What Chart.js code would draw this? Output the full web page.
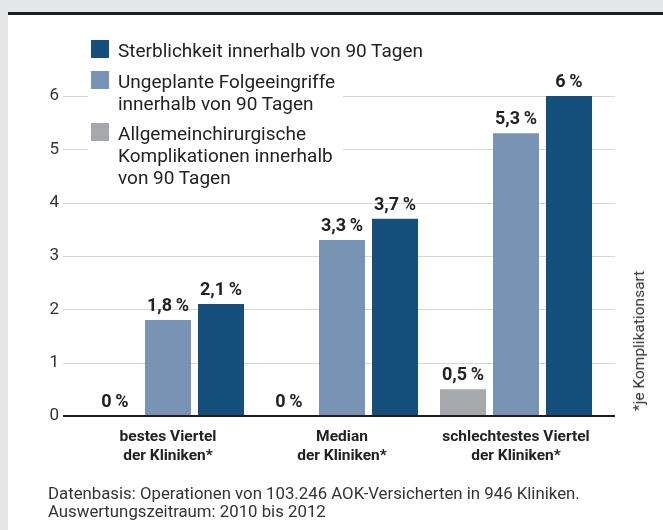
<!DOCTYPE html>
<html lang="de">
<head>
<meta charset="utf-8">
<script src="https://cdn.jsdelivr.net/npm/chart.js@4.4.1/dist/chart.umd.min.js"></script>
<style>
  body { margin: 0; background: #e6e7e9; font-family: Roboto, "Liberation Sans", sans-serif; }
  #karte { position: absolute; left: 8px; top: 12px; width: 655px; height: 518px; background: #fff; border-top: 3px solid #1f1f1f; }
  #grafik { position: absolute; left: 0; top: 0; }
  #legendeHg { position: absolute; left: 88px; top: 62px; width: 255px; height: 132px; background: #fff; }
  #legende { position: absolute; left: 88px; top: 40px; }
  .eintrag { position: relative; padding-left: 30px; margin-bottom: 8.5px; font-size: 19px; line-height: 22px; color: #222; white-space: nowrap; }
  .eintrag span { position: absolute; left: 3px; top: 0; width: 18px; height: 18px; }
  #fuss { position: absolute; left: 48px; top: 485px; font-size: 16.8px; line-height: 17.5px; color: #333; }
  #hinweis { position: absolute; left: 639px; top: 341px; transform: translate(-50%, -50%) rotate(-90deg); white-space: nowrap; font-size: 15.5px; color: #333; }
</style>
</head>
<body>
<div id="karte"></div>
<canvas id="grafik" width="663" height="530"></canvas>
<div id="legendeHg"></div>
<div id="legende"></div>
<div id="fuss">Datenbasis: Operationen von 103.246 AOK-Versicherten in 946 Kliniken.<br>Auswertungszeitraum: 2010 bis 2012</div>
<div id="hinweis">*je Komplikationsart</div>
<script>
const kategorien = [['bestes Viertel', 'der Kliniken*'], ['Median', 'der Kliniken*'], ['schlechtestes Viertel', 'der Kliniken*']];
const komplikationen = [0, 0, 0.5];
const folgeeingriffe = [1.8, 3.3, 5.3];
const sterblichkeit = [2.1, 3.7, 6];
const yTicks = [0, 1, 2, 3, 4, 5, 6];

const serien = [
  { name: ['Allgemeinchirurgische', 'Komplikationen innerhalb', 'von 90 Tagen'], werte: komplikationen, farbe: '#a7a8ab' },
  { name: ['Ungeplante Folgeeingriffe', 'innerhalb von 90 Tagen'], werte: folgeeingriffe, farbe: '#7893b3' },
  { name: ['Sterblichkeit innerhalb von 90 Tagen'], werte: sterblichkeit, farbe: '#15507c' }
];

// Legende (umgekehrte Reihenfolge wie im Original)
const legende = document.getElementById('legende');
serien.slice().reverse().forEach(s => {
  const div = document.createElement('div');
  div.className = 'eintrag';
  div.innerHTML = `<span style="background:${s.farbe}"></span>${s.name.join('<br>')}`;
  legende.appendChild(div);
});

const prozent = v => v.toLocaleString('de-DE') + '\u2009%';

// Gitterlinien etwas breiter als die Zeichenfläche
const gitter = {
  id: 'gitter',
  beforeDatasetsDraw(chart) {
    const ctx = chart.ctx;
    const y = chart.scales.y;
    ctx.save();
    ctx.strokeStyle = '#d6d6d6';
    ctx.lineWidth = 1;
    yTicks.forEach(t => {
      if (t === 0) return;
      const py = Math.round(y.getPixelForValue(t)) + 0.5;
      ctx.beginPath();
      ctx.moveTo(63, py);
      ctx.lineTo(615, py);
      ctx.stroke();
    });
    ctx.restore();
  },
  afterDatasetsDraw(chart) {
    const ctx = chart.ctx;
    const py = chart.scales.y.getPixelForValue(0);
    ctx.save();
    ctx.strokeStyle = '#1f1f1f';
    ctx.lineWidth = 2;
    ctx.beginPath();
    ctx.moveTo(63, py);
    ctx.lineTo(615, py);
    ctx.stroke();

    // Werte über den Balken
    ctx.fillStyle = '#222';
    ctx.font = 'bold 18px Roboto, "Liberation Sans", sans-serif';
    ctx.textAlign = 'center';
    ctx.textBaseline = 'alphabetic';
    chart.data.datasets.forEach((ds, i) => {
      chart.getDatasetMeta(i).data.forEach((bar, j) => {
        ctx.fillText(prozent(ds.data[j]), bar.x, bar.y - 9);
      });
    });
    ctx.restore();
  }
};

new Chart(document.getElementById('grafik'), {
  type: 'bar',
  data: {
    labels: kategorien,
    datasets: serien.map(s => ({
      label: s.name.join(' '),
      data: s.werte,
      backgroundColor: s.farbe,
      categoryPercentage: 0.914,
      barPercentage: 0.868
    }))
  },
  options: {
    responsive: false,
    animation: false,
    layout: { padding: { left: 0, right: 60, top: 96, bottom: 54 } },
    plugins: { legend: { display: false }, tooltip: { enabled: false } },
    scales: {
      x: {
        grid: { display: false, drawTicks: false },
        border: { display: false },
        ticks: {
          color: '#222',
          padding: 12,
          maxRotation: 0,
          minRotation: 0,
          autoSkip: false,
          font: { family: 'Roboto, "Liberation Sans", sans-serif', size: 15.5, weight: 'bold', lineHeight: 1.23 }
        },
        afterFit: s => { s.height = 60; }
      },
      y: {
        min: 0,
        max: 6,
        grid: { display: false, drawTicks: false },
        border: { display: false },
        afterBuildTicks: s => { s.ticks = yTicks.map(v => ({ value: v })); },
        ticks: {
          color: '#333',
          padding: 22,
          font: { family: 'Roboto, "Liberation Sans", sans-serif', size: 17 }
        },
        afterFit: s => { s.width = 81; }
      }
    }
  },
  plugins: [gitter]
});
</script>
</body>
</html>
